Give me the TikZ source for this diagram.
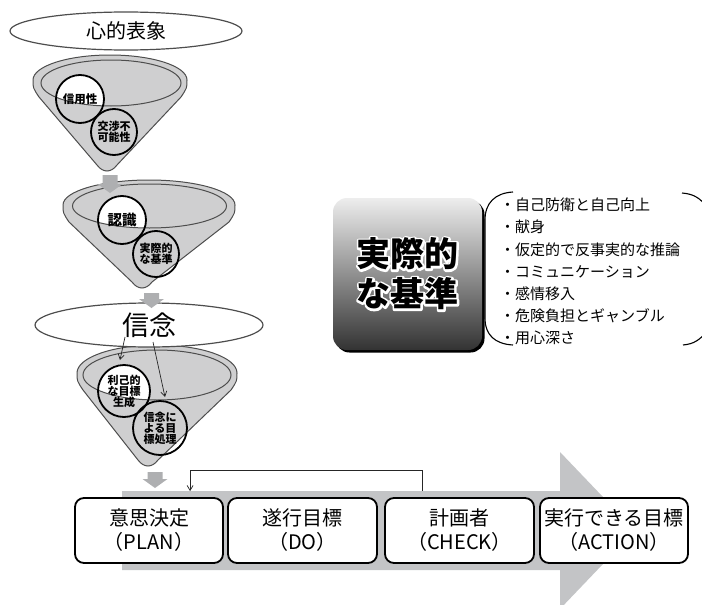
\documentclass[tikz,border=0pt]{standalone}
\usepackage{fontspec}
\setmainfont{Noto Sans CJK JP}
\usetikzlibrary{shapes.geometric,arrows.meta,shadows,calc}
\definecolor{funfill}{HTML}{CFCFD0}
\definecolor{funline}{HTML}{4D4D4D}
\definecolor{bandc}{HTML}{C3C4C6}
\definecolor{smallarr}{HTML}{AEAFB1}
% white outline behind a text: a stroked white copy, then the black text
\newcommand\halotext[1]{\makebox[0pt][l]{\special{pdf:code q 1 Tr 4 w 1 j}\textcolor{white}{#1}\special{pdf:code Q}}#1}
\tikzset{
 funnel/.style={fill=funfill, draw=funline, line width=1pt},
 rim/.style={draw=funline, line width=1pt},
 topic/.style={ellipse, draw=funline, line width=1.2pt, fill=white, inner sep=0pt},
 bubble/.style={circle, draw=black, line width=1.8pt, inner sep=0pt, align=center, font=\bfseries\fontsize{11}{11}\selectfont},
 stagebox/.style={draw=black, line width=1.8pt, rounded corners=9pt, fill=white, minimum width=148pt, minimum height=65pt, align=center, inner sep=0pt, font=\fontsize{20}{24}\selectfont},
 thinarrow/.style={-{Straight Barb[length=5pt,width=6pt]}, line width=0.7pt, draw=black!85},
 listitem/.style={anchor=west, inner sep=0pt, font=\fontsize{15}{18}\selectfont},
 bracketline/.style={draw=black, line width=1.1pt},
}
% cx, cy, rx, ry, bx, by  (page pixel coordinates, y downwards)
\newcommand\funnelshape[6]{%
 \filldraw[funnel] ({#1-#3},{-#2}) arc[start angle=180,end angle=0,x radius=#3,y radius=#4]
  .. controls ({#1+#3},{-#2-8}) .. ({#1+#3-6},{-#2-17})
  -- ({#5+10},{-#6+8}) .. controls ({#5+4},{-#6}) and ({#5-4},{-#6}) .. ({#5-10},{-#6+8})
  -- ({#1-#3+6},{-#2-17}) .. controls ({#1-#3},{-#2-8}) .. ({#1-#3},{-#2}) -- cycle;}
% cx, top, bottom
\newcommand\grayarrow[3]{%
 \fill[smallarr] ({#1-7.5},{-#2}) -- ({#1+7.5},{-#2}) -- ({#1+7.5},{-#3+9}) -- ({#1+12.5},{-#3+9})
  -- ({#1},{-#3}) -- ({#1-12.5},{-#3+9}) -- ({#1-7.5},{-#3+9}) -- cycle;}
\begin{document}
\begin{tikzpicture}[x=1pt,y=1pt]
\useasboundingbox (0,0) rectangle (702,-605);
\clip (0,0) rectangle (702,-605);

% big process arrow
\fill[bandc] (122,-491) -- (560,-491) -- (560,-452) -- (635,-530.5) -- (560,-609) -- (560,-570) -- (122,-570) -- cycle;

% funnel 1
\funnelshape{110}{80}{77}{25}{107}{173}
\begin{scope}
 \clip (111,-83) ellipse [x radius=70, y radius=23];
 \fill[white] (80,-99) circle [radius=24];
\end{scope}
\draw[rim] (111,-83) ellipse [x radius=70, y radius=23];
\node[bubble, minimum size=48pt] (c1) at (80,-99) {\fontsize{11.5}{12}\selectfont 信用性};
\node[bubble, minimum size=46pt] (c2) at (114,-132) {\fontsize{11}{12}\selectfont 交渉不\\可能性};

\node[topic, minimum width=232pt, minimum height=38pt, font=\fontsize{20}{24}\selectfont] (e1) at (126,-31) {心的表象};

% funnel 2
\funnelshape{149}{205}{86}{25}{142}{290}
\begin{scope}
 \clip (149.5,-206) ellipse [x radius=77, y radius=22];
 \fill[white] (122,-220) circle [radius=24];
\end{scope}
\draw[rim] (149.5,-206) ellipse [x radius=77, y radius=22];
\node[bubble, minimum size=48pt] (c3) at (122,-220) {\fontsize{14.5}{15}\selectfont 認識};
\node[bubble, minimum size=46pt] (c4) at (156,-254) {\fontsize{11}{11.5}\selectfont 実際的\\な基準};
\grayarrow{110}{175}{193}

% funnel 3
\funnelshape{157}{373}{80}{28}{148}{468}
\begin{scope}
 \clip (157,-375) ellipse [x radius=74, y radius=25];
 \fill[white] (124,-391) circle [radius=26];
\end{scope}
\draw[rim] (157,-375) ellipse [x radius=74, y radius=25];
\node[bubble, minimum size=52pt] (c5) at (124,-391) {\fontsize{11}{10.5}\selectfont 利己的\\な目標\\生成};
\node[bubble, minimum size=54pt] (c6) at (160,-428) {\fontsize{11}{10.5}\selectfont 信念に\\よる目\\標処理};

\node[topic, minimum width=228pt, minimum height=44pt, font=\fontsize{27}{30}\selectfont] (e2) at (149,-325) {信念};
\grayarrow{151.5}{293}{308}
\grayarrow{155}{472}{488}

% thin arrows from belief
\coordinate (t1s) at (125,-337);
\coordinate (t1e) at (120,-360);
\coordinate (t2s) at (153,-342);
\coordinate (t2e) at (165,-397);
\draw[thinarrow] (t1s) -- (t1e);
\draw[thinarrow] (t2s) -- (t2e);

% stage boxes
\node[stagebox] (b1) at (149,-530.5) {意思決定\\（PLAN）};
\node[stagebox, minimum width=149pt] (b2) at (302.5,-530.5) {遂行目標\\（DO）};
\node[stagebox, minimum width=149pt] (b3) at (459.5,-530.5) {計画者\\（CHECK）};
\node[stagebox] (b4) at (614,-530.5) {実行できる目標\\（ACTION）};

% feedback connector
\coordinate (fbs) at ($(b3.north west)+(38,6)$);
\coordinate (fbe) at ($(b1.north west)+(116,6)$);
\draw[thinarrow] (fbs) -- ++(0,21) -| (fbe);

% dark box
\node[rounded corners=14pt, top color=white!93!black, bottom color=black!80,
  minimum width=149pt, minimum height=152pt, inner sep=0pt,
  drop shadow={shadow xshift=2.5pt, shadow yshift=-2.5pt, fill=black, opacity=1},
  align=center, font=\bfseries\fontsize{34}{40}\selectfont] (kb) at (407.5,-274)
  {\halotext{実際的}\\\halotext{な基準}};

% brackets
\draw[bracketline] (513,-192) .. controls (495,-193) and (485,-203) .. (485,-220) -- (485,-318)
  .. controls (485,-335) and (495,-344) .. (513,-345);
\draw[bracketline] (682,-193) .. controls (694,-194) and (700,-198) .. (708,-208);
\draw[bracketline] (683,-345) .. controls (694,-344) and (700,-340) .. (708,-330);

% list
\foreach \t [count=\i] in {自己防衛と自己向上, 献身, 仮定的で反事実的な推論, コミュニケーション, 感情移入, 危険負担とギャンブル, 用心深さ}
  \node[listitem] (li\i) at (500,{-205-22.17*(\i-1)}) {・\t};
\end{tikzpicture}
\end{document}
